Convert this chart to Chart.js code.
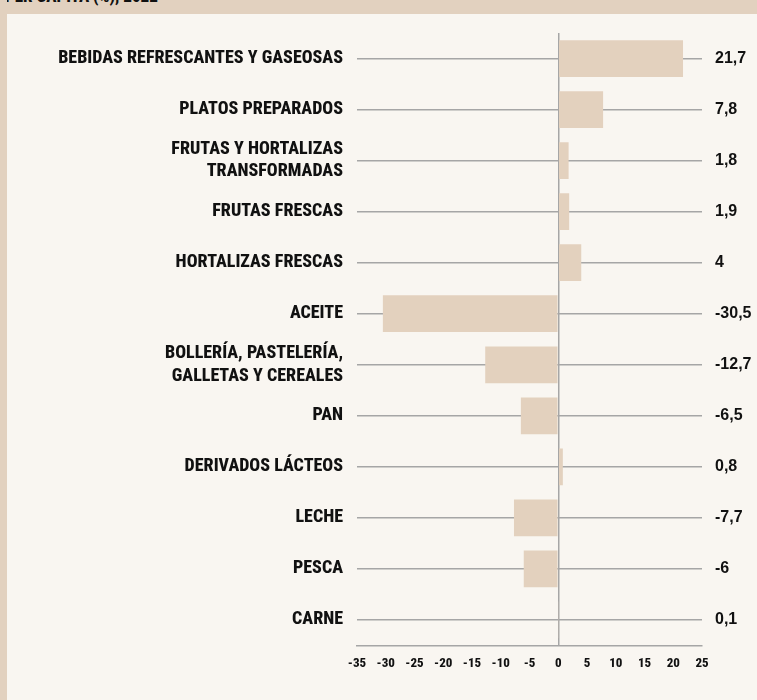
<!DOCTYPE html>
<html>
<head>
<meta charset="utf-8">
<script src="https://cdn.jsdelivr.net/npm/chart.js@4"></script>
<style>
html,body{margin:0;padding:0;background:#f9f6f1;width:757px;height:700px;overflow:hidden;}
#band{position:absolute;left:0;top:0;width:757px;height:14px;background:#e2d1bf;overflow:hidden;}
#band span{position:absolute;left:5px;top:-14px;font:800 17px "Roboto Condensed";color:#111;white-space:nowrap;line-height:20px;}
#strip{position:absolute;left:0;top:0;width:7px;height:700px;background:#e2d1bf;}
#wrap{position:absolute;left:0;top:0;width:757px;height:700px;}
</style>
</head>
<body>
<div id="band"><span>PER CÁPITA (%), 2022</span></div>
<div id="strip"></div>
<div id="wrap"><canvas id="c" width="757" height="700"></canvas></div>
<script>
const categories = [
  'BEBIDAS REFRESCANTES Y GASEOSAS',
  'PLATOS PREPARADOS',
  ['FRUTAS Y HORTALIZAS', 'TRANSFORMADAS'],
  'FRUTAS FRESCAS',
  'HORTALIZAS FRESCAS',
  'ACEITE',
  ['BOLLERÍA, PASTELERÍA,', 'GALLETAS Y CEREALES'],
  'PAN',
  'DERIVADOS LÁCTEOS',
  'LECHE',
  'PESCA',
  'CARNE'
];
const values = [21.7, 7.8, 1.8, 1.9, 4, -30.5, -12.7, -6.5, 0.8, -7.7, -6, 0.1];
const valueLabels = ['21,7', '7,8', '1,8', '1,9', '4', '-30,5', '-12,7', '-6,5', '0,8', '-7,7', '-6', '0,1'];
const xMin = -35, xMax = 25, xStep = 5;

const GRID = '#a6a6a6';
const BAR = '#e3d1be';
const TEXT = '#111111';

new Chart(document.getElementById('c'), {
  type: 'bar',
  data: {
    labels: categories,
    datasets: [{
      data: values,
      backgroundColor: BAR,
      borderWidth: 0,
      barPercentage: 0.72,
      categoryPercentage: 1
    }]
  },
  options: {
    indexAxis: 'y',
    responsive: false,
    animation: false,
    layout: { padding: { top: 33, left: 0, right: 0, bottom: 0 } },
    plugins: { legend: { display: false }, tooltip: { enabled: false } },
    scales: {
      x: {
        type: 'linear',
        min: xMin, max: xMax,
        ticks: {
          stepSize: xStep,
          color: TEXT,
          font: { family: 'Roboto Condensed', weight: '800', size: 13 },
          padding: 10,
          maxRotation: 0,
          autoSkip: false
        },
        grid: {
          drawTicks: false,
          color: c => (c.tick && c.tick.value === 0) ? GRID : 'rgba(0,0,0,0)',
          lineWidth: 1.5
        },
        border: { display: true, color: GRID, width: 1.5 },
        afterFit: s => { s.height = 54.5; }
      },
      y: {
        type: 'category',
        position: 'left',
        offset: true,
        ticks: {
          color: TEXT,
          font: { family: 'Roboto Condensed', weight: '800', size: 18, lineHeight: 1.25 },
          padding: 14,
          autoSkip: false
        },
        grid: { offset: false, drawTicks: false, color: GRID, lineWidth: 1.5 },
        border: { display: false },
        afterFit: s => { s.width = 357; }
      },
      y2: {
        type: 'category',
        position: 'right',
        labels: valueLabels,
        offset: true,
        ticks: {
          color: TEXT,
          font: { family: 'Liberation Sans', weight: 'bold', size: 16 },
          padding: 13,
          autoSkip: false
        },
        grid: { display: false, drawTicks: false },
        border: { display: false },
        afterFit: s => { s.width = 55; }
      }
    }
  }
});
</script>
</body>
</html>
